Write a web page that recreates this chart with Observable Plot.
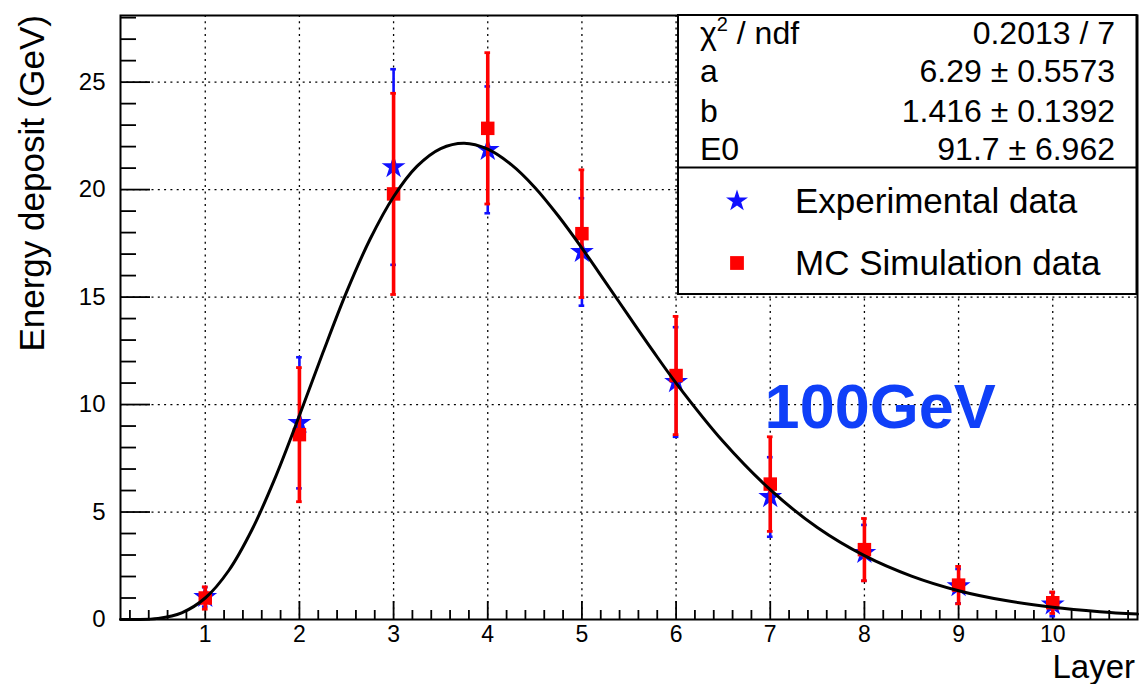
<!DOCTYPE html>
<html>
<head>
<meta charset="utf-8">
<script src="https://cdn.jsdelivr.net/npm/d3@7"></script>
<script src="https://cdn.jsdelivr.net/npm/@observablehq/plot@0.6"></script>
<style>
html,body{margin:0;padding:0;background:#fff;}
#chart{width:1143px;height:684px;}
</style>
</head>
<body>
<div id="chart"></div>
<script>
// ---- data ----
const layers     = [1, 2, 3, 4, 5, 6, 7, 8, 9, 10];
const expValues  = [1.05, 9.15, 21.05, 21.85, 17.1, 11.05, 5.7, 3.1, 1.55, 0.7];
const expErrors  = [0.45, 3.05, 4.55, 2.95, 2.5, 2.55, 1.85, 1.3, 0.8, 0.55];
const mcValues   = [1.0, 8.6, 19.8, 22.85, 17.95, 11.35, 6.3, 3.25, 1.6, 0.78];
const mcErrors   = [0.52, 3.12, 4.68, 3.52, 2.97, 2.75, 2.2, 1.45, 0.87, 0.5];
const fitX = [0.1, 0.25, 0.5, 0.75, 1, 1.25, 1.5, 1.75, 2, 2.25, 2.5, 2.75, 3, 3.25, 3.5, 3.75, 4, 4.25, 4.5, 4.75, 5, 5.25, 5.5, 5.75, 6, 6.5, 7, 7.5, 8, 8.5, 9, 9.5, 10, 10.5, 10.9];
const fitY = [0.0, 0.002, 0.052, 0.311, 1.0, 2.28, 4.21, 6.67, 9.49, 12.42, 15.23, 17.69, 19.67, 21.09, 21.91, 22.16, 21.88, 21.16, 20.10, 18.77, 17.28, 15.70, 14.10, 12.52, 11.0, 8.28, 6.04, 4.28, 2.97, 2.02, 1.34, 0.881, 0.569, 0.363, 0.251];
const xMajorTicks = [1, 2, 3, 4, 5, 6, 7, 8, 9, 10];
const yMajorTicks = [0, 5, 10, 15, 20, 25];
const xTickLabels = ["1", "2", "3", "4", "5", "6", "7", "8", "9", "10"];
const yTickLabels = ["0", "5", "10", "15", "20", "25"];
const statNames  = ["χ", "a", "b", "E0"];
const statValues = ["0.2013 / 7", "6.29 ± 0.5573", "1.416 ± 0.1392", "91.7 ± 6.962"];
const legendLabels = ["Experimental data", "MC Simulation data"];
const xTitle = "Layer";
const yTitle = "Energy deposit (GeV)";
const energyLabel = "100GeV";

// ---- tables ----
const expData = layers.map((l, i) => ({layer: l, v: expValues[i], e: expErrors[i]}));
const mcData  = layers.map((l, i) => ({layer: l, v: mcValues[i], e: mcErrors[i]}));
const fitData = fitX.map((x, i) => ({x, y: fitY[i]}));
const xTicks = xMajorTicks.map((v, i) => ({v, label: xTickLabels[i]}));
const yTicks = yMajorTicks.map((v, i) => ({v, label: yTickLabels[i]}));
const xMinorTicks = d3.range(1, 55).map(i => Math.round(i * 2) / 10).filter(v => !Number.isInteger(v));
const yMinorTicks = d3.range(1, 29).filter(v => v % 5 !== 0);

const W = 1143, H = 684, mL = 120, mR = 6, mT = 15, mB = 65;
const fw = W - mL - mR, fh = H - mT - mB;
const font = "'Liberation Sans', Arial, Helvetica, sans-serif";
const BLUE = "#1010ff", RED = "#ff0000";
const grid = {stroke: "black", strokeOpacity: 1, strokeWidth: 1.3, strokeDasharray: "2,4.3"};

const plot = Plot.plot({
  width: W, height: H,
  marginLeft: mL, marginRight: mR, marginTop: mT, marginBottom: mB,
  style: {fontFamily: font, fontSize: "23px", color: "black", background: "white"},
  x: {domain: [0.1, 10.9], axis: null},
  y: {domain: [0, 28.1], axis: null},
  marks: [
    Plot.gridX(xMajorTicks, grid),
    Plot.gridY(yMajorTicks.filter(d => d > 0), grid),
    // axis ticks (inward)
    Plot.ruleX(xMajorTicks, {x: d => d, insetTop: fh - 18, stroke: "black", strokeWidth: 1.8}),
    Plot.ruleX(xMinorTicks, {x: d => d, insetTop: fh - 9, stroke: "black", strokeWidth: 1.8}),
    Plot.ruleY(yMajorTicks, {y: d => d, insetRight: fw - 30, stroke: "black", strokeWidth: 1.8}),
    Plot.ruleY(yMinorTicks, {y: d => d, insetRight: fw - 16, stroke: "black", strokeWidth: 1.8}),
    // tick labels
    Plot.text(xTicks, {x: "v", text: "label", frameAnchor: "bottom", lineAnchor: "top", dy: 6, fontSize: 23, fill: "black"}),
    Plot.text(yTicks, {y: "v", text: "label", frameAnchor: "left", textAnchor: "end", dx: -15, fontSize: 24, fill: "black"}),
    // experimental data
    Plot.ruleX(expData, {x: "layer", y1: d => d.v - d.e, y2: d => d.v + d.e, stroke: BLUE, strokeWidth: 2.6}),
    Plot.ruleY(expData, {y: d => d.v + d.e, x1: d => d.layer - 0.03, x2: d => d.layer + 0.03, stroke: BLUE, strokeWidth: 2.6}),
    Plot.ruleY(expData, {y: d => d.v - d.e, x1: d => d.layer - 0.03, x2: d => d.layer + 0.03, stroke: BLUE, strokeWidth: 2.6}),
    Plot.dot(expData, {x: "layer", y: "v", symbol: "star", r: 7.5, fill: BLUE, stroke: "none"}),
    // MC data
    Plot.ruleX(mcData, {x: "layer", y1: d => d.v - d.e, y2: d => d.v + d.e, stroke: RED, strokeWidth: 3.6}),
    Plot.ruleY(mcData, {y: d => d.v + d.e, x1: d => d.layer - 0.03, x2: d => d.layer + 0.03, stroke: RED, strokeWidth: 2.8}),
    Plot.ruleY(mcData, {y: d => d.v - d.e, x1: d => d.layer - 0.03, x2: d => d.layer + 0.03, stroke: RED, strokeWidth: 2.8}),
    Plot.dot(mcData, {x: "layer", y: "v", symbol: "square", r: 7.6, fill: RED, stroke: "none"}),
    // fit curve
    Plot.line(fitData, {x: "x", y: "y", curve: "catmull-rom", stroke: "black", strokeWidth: 3}),
    // annotation
    Plot.text([energyLabel], {x: 6.94, y: 8.9, text: d => d, textAnchor: "start", lineAnchor: "bottom",
      fontSize: 63, fontWeight: "bold", fill: "#0f3ff8", fontFamily: font}),
    Plot.frame({stroke: "black", strokeWidth: 2})
  ]
});
document.getElementById("chart").appendChild(plot);

// ---- stats box, legend and axis titles ----
const svg = d3.select(plot);
const ann = svg.append("g").attr("font-family", font).attr("fill", "black").attr("text-anchor", "start");
const bx0 = 678, bx1 = 1136.5, by0 = 15, by1 = 294, bdiv = 167.5;
ann.append("rect").attr("x", bx0).attr("y", by0).attr("width", bx1 - bx0).attr("height", by1 - by0)
  .attr("fill", "white").attr("stroke", "black").attr("stroke-width", 2);
ann.append("line").attr("x1", bx0).attr("x2", bx1).attr("y1", bdiv).attr("y2", bdiv)
  .attr("stroke", "black").attr("stroke-width", 2);
const rowBase = [43.5, 82, 121.5, 160];
statNames.forEach((n, i) => {
  const t = ann.append("text").attr("x", 700).attr("y", rowBase[i]).attr("font-size", 32).attr("text-anchor", "start");
  if (i === 0) {
    t.append("tspan").text("χ");
    t.append("tspan").attr("font-size", 20).attr("dy", -13).text("2");
    t.append("tspan").attr("dy", 13).text(" / ndf");
  } else t.text(n);
  ann.append("text").attr("x", 1115).attr("y", rowBase[i]).attr("font-size", 32)
    .attr("text-anchor", "end").text(statValues[i]);
});
// legend
ann.append("path").attr("d", d3.symbol(d3.symbolStar, 150)()).attr("transform", "translate(737,201)").attr("fill", BLUE);
ann.append("path").attr("d", d3.symbol(d3.symbolSquare, 190)()).attr("transform", "translate(737,263)").attr("fill", RED);
ann.append("text").attr("x", 795).attr("y", 213).attr("font-size", 35).attr("text-anchor", "start").text(legendLabels[0]);
ann.append("text").attr("x", 795).attr("y", 275).attr("font-size", 35).attr("text-anchor", "start").text(legendLabels[1]);
// axis titles
ann.append("text").attr("x", 1135).attr("y", 678).attr("font-size", 33).attr("text-anchor", "end").text(xTitle);
ann.append("text").attr("transform", "translate(44,15) rotate(-90)").attr("font-size", 35)
  .attr("text-anchor", "end").text(yTitle);
</script>
</body>
</html>
